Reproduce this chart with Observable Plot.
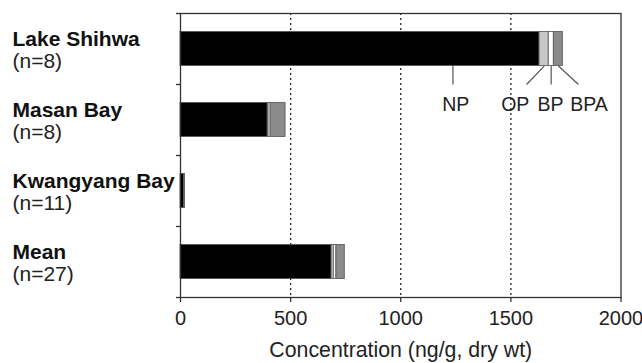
<!DOCTYPE html>
<html>
<head>
<meta charset="utf-8">
<script src="https://cdn.jsdelivr.net/npm/d3@7"></script>
<script src="https://cdn.jsdelivr.net/npm/@observablehq/plot@0.6"></script>
<style>
  html, body { margin: 0; padding: 0; background: #fff; }
</style>
</head>
<body>
<div id="chart"></div>
<script>
// ---- data ----
const sites = ["Lake Shihwa", "Masan Bay", "Kwangyang Bay", "Mean"];
const sampleSizes = ["(n=8)", "(n=8)", "(n=11)", "(n=27)"];
const compounds = ["NP", "OP", "BP", "BPA"];
const npValues  = [1630, 396, 16, 686];
const opValues  = [42, 4, 1, 10];
const bpValues  = [23, 9, 1, 12];
const bpaValues = [41, 68, 2, 38];
const xTicks = [0, 500, 1000, 1500, 2000];
const gridValues = [500, 1000, 1500];
const xTitle = "Concentration (ng/g, dry wt)";
// annotation (compound labels for Lake Shihwa bar), in data units
const annLabelX  = [1250, 1520, 1680, 1855];
const annLineTop = [1237, 1651, 1683, 1716];
const annLineBot = [1237, 1571, 1683, 1807];

// ---- build table ----
const seriesValues = [npValues, opValues, bpValues, bpaValues];
const fills = ["#000000", "#c8c8c8", "#ffffff", "#8a8a8a"];
const segs = [];
sites.forEach((s, i) => {
  let acc = 0;
  compounds.forEach((c, j) => {
    const v = seriesValues[j][i];
    segs.push({site: s, row: i, compound: c, x1: acc, x2: acc + v, fill: fills[j]});
    acc += v;
  });
});
const half = 0.24; // half bar thickness in row units
const rows = sites.map((s, i) => ({site: s, n: sampleSizes[i], row: i}));
const bounds = d3.range(sites.length + 1).map(i => i - 0.5);
const ann = compounds.map((c, j) => ({label: c, tx: annLabelX[j], top: annLineTop[j], bot: annLineBot[j], row: 0}));

const chart = Plot.plot({
  width: 642,
  height: 363,
  marginLeft: 180,
  marginRight: 21.5,
  marginTop: 13,
  marginBottom: 66,
  style: {fontFamily: "'Liberation Sans', Arial, sans-serif", fontSize: "19px", color: "#222", background: "#fff"},
  x: {domain: [0, 2000]},
  y: {domain: [-0.5, sites.length - 0.5], reverse: true},
  marks: [
    Plot.ruleX(gridValues, {stroke: "#222", strokeWidth: 1.3, strokeDasharray: "2,3"}),
    Plot.rectX(segs, {x1: "x1", x2: "x2", y1: d => d.row - half, y2: d => d.row + half, fill: "fill", stroke: "#555", strokeWidth: 0.8}),
    Plot.link(ann, {x1: "top", x2: "bot", y1: d => d.row + half, y2: d => d.row + 0.5, stroke: "#555", strokeWidth: 1.2}),
    Plot.text(ann, {x: "tx", y: "row", text: "label", dy: 62, lineAnchor: "bottom", fill: "#222", fontSize: 19.5}),
    Plot.frame({stroke: "#333", strokeWidth: 1.3}),
    Plot.axisY({ticks: bounds, tickSize: 4, tickFormat: () => "", stroke: "#333", strokeWidth: 1.3, label: null}),
    Plot.axisX({ticks: xTicks, tickSize: 5, tickPadding: 8, tickFormat: d => String(d), stroke: "#333", strokeWidth: 1.3, label: null, fontSize: 20}),
    Plot.text([xTitle], {frameAnchor: "bottom", dy: 59, lineAnchor: "bottom", fill: "#222", fontSize: 21.3}),
    Plot.text(rows, {y: "row", text: "site", frameAnchor: "left", textAnchor: "start", dx: -168, dy: -3, lineAnchor: "bottom", fontWeight: "bold", fill: "#111", fontSize: 21}),
    Plot.text(rows, {y: "row", text: "n", frameAnchor: "left", textAnchor: "start", dx: -168, dy: 18.5, lineAnchor: "bottom", fill: "#222", fontSize: 21})
  ]
});
document.getElementById("chart").appendChild(chart);
</script>
</body>
</html>
